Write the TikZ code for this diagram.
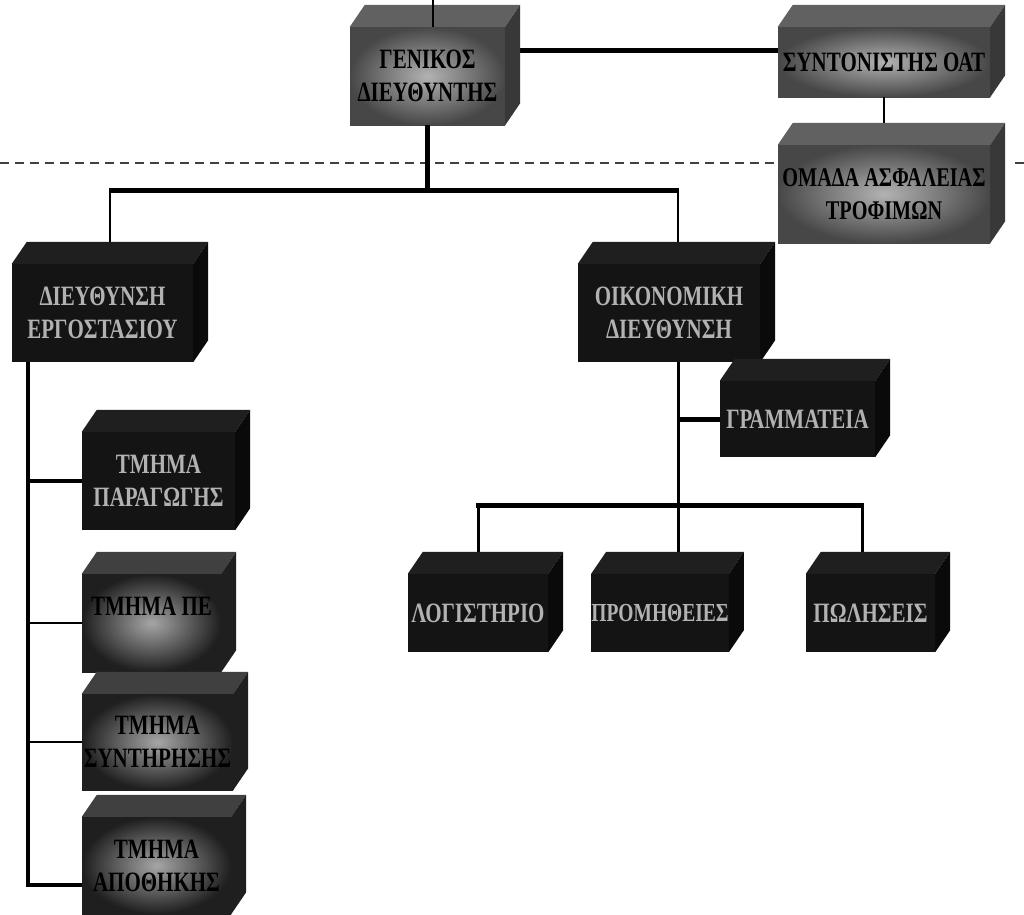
\documentclass[tikz,border=0pt]{standalone}
\usepackage{fontspec}
\setmainfont{Liberation Serif}[FakeStretch=0.75]
\tikzset{
  orgbox/.style={rectangle, inner sep=0pt, align=center, font=\fontsize{28}{33}\selectfont\bfseries},
  graybox/.style={orgbox, inner color=black!30, outer color=black!72, text=black},
  lowbox/.style={orgbox, inner color=black!35, outer color=black!88, text=black},
  darkbox/.style={orgbox, fill=black!92, text=black!30},
  thick line/.style={line width=5pt},
  thin line/.style={line width=2pt}
}
\begin{document}
\begin{tikzpicture}[x=1pt, y=-1pt]
        \useasboundingbox[fill=white] (0,0) rectangle (1024,914);

        \node[graybox, minimum width=155, minimum height=98] (gen) at (427.5,76) {ΓΕΝΙΚΟΣ\\ΔΙΕΥΘΥΝΤΗΣ};
        \node[graybox, minimum width=212, minimum height=70] (coord) at (884,62) {ΣΥΝΤΟΝΙΣΤΗΣ ΟΑΤ};
        \node[graybox, minimum width=212, minimum height=98, font=\fontsize{27}{33}\selectfont\bfseries] (safety) at (884,194) {ΟΜΑΔΑ ΑΣΦΑΛΕΙΑΣ\\ΤΡΟΦΙΜΩΝ};
        \node[darkbox, minimum width=181, minimum height=98] (factory) at (102.5,313) {ΔΙΕΥΘΥΝΣΗ\\ΕΡΓΟΣΤΑΣΙΟΥ};
        \node[darkbox, minimum width=182, minimum height=98] (econ) at (669,313) {ΟΙΚΟΝΟΜΙΚΗ\\ΔΙΕΥΘΥΝΣΗ};
        \node[darkbox, minimum width=155, minimum height=76] (secr) at (797.5,419) {ΓΡΑΜΜΑΤΕΙΑ};
        \node[darkbox, minimum width=153, minimum height=98] (prod) at (158.5,481) {ΤΜΗΜΑ\\ΠΑΡΑΓΩΓΗΣ};
        \node[lowbox, minimum width=139, minimum height=98] (pe) at (151.5,623) {ΤΜΗΜΑ ΠΕ\\~};
        \node[lowbox, minimum width=151, minimum height=96] (maint) at (157.5,742) {ΤΜΗΜΑ\\ΣΥΝΤΗΡΗΣΗΣ};
        \node[lowbox, minimum width=149, minimum height=97] (store) at (156.5,865.5) {ΤΜΗΜΑ\\ΑΠΟΘΗΚΗΣ};
        \node[darkbox, minimum width=140, minimum height=78] (acc) at (478,613) {ΛΟΓΙΣΤΗΡΙΟ};
        \node[darkbox, minimum width=134, minimum height=78, font=\fontsize{26}{30}\selectfont\bfseries] (supp) at (660,613) {ΠΡΟΜΗΘΕΙΕΣ};
        \node[darkbox, minimum width=129, minimum height=78] (sales) at (870.5,613) {ΠΩΛΗΣΕΙΣ};

        % page fold line of the scan
        \draw[line width=1.2pt, dash pattern=on 9pt off 6pt, black!75] (0,163) -- (780,163);
        \draw[line width=1.2pt, black!75] (1015,163) -- (1024,163);

        \coordinate (up) at (433,0);
        \coordinate (bar1l) at (110,190);
        \coordinate (bar1r) at (678,190);
        \coordinate (lsp) at (28,885);
        \coordinate (rsp) at (678,505);
        \coordinate (bar2l) at (478,505);
        \coordinate (bar2r) at (862,505);

        \draw[thick line] ([yshift=26pt]gen.east) -- ([yshift=26pt]gen.east -| coord.west);
        \draw[thin line] (coord.south) -- (safety.north);
        \draw[thick line] (gen.south) -- (gen.south |- bar1l);
        \draw[thick line] ([xshift=-1pt]bar1l) -- ([xshift=1pt]bar1r);
        \draw[thin line] (bar1l) -- (bar1l |- factory.north);
        \draw[thin line] (bar1r) -- (bar1r |- econ.north);

        \draw[thick line, line width=4pt] (factory.south -| lsp) -- ([yshift=-2pt]lsp);
        \draw[thick line, line width=4pt] (prod.west -| lsp) -- (prod.west);
        \draw[thin line] (pe.west -| lsp) -- (pe.west);
        \draw[thin line] (maint.west -| lsp) -- (maint.west);
        \draw[thick line, line width=4pt] ([xshift=-2pt]lsp) -- (lsp -| store.west);

        \draw[thick line, line width=3pt] (econ.south -| rsp) -- (rsp);
        \draw[thick line] (secr.west -| rsp) -- (secr.west);
        \draw[thick line] ([xshift=-2pt]bar2l) -- ([xshift=2pt]bar2r);
        \draw[thin line, line width=3pt] ([yshift=2pt]bar2l) -- (bar2l |- acc.north);
        \draw[thin line, line width=3pt] (rsp) -- (rsp |- supp.north);
        \draw[thin line, line width=3pt] ([yshift=2pt]bar2r) -- (bar2r |- sales.north);

        % top and side faces of the boxes
        \foreach \n/\t/\s in {gen/black!62/black!78, coord/black!62/black!78, safety/black!62/black!78,
                              factory/black!88/black!96, econ/black!88/black!96, secr/black!88/black!96,
                              prod/black!88/black!96, pe/black!75/black!88, maint/black!75/black!88,
                              store/black!75/black!88, acc/black!88/black!96, supp/black!88/black!96,
                              sales/black!88/black!96} {
          \fill[\t] (\n.north west) -- ++(15,-22) -- ([shift={(15,-22)}]\n.north east) -- (\n.north east) -- cycle;
          \fill[\s] (\n.north east) -- ++(15,-22) -- ([shift={(15,-22)}]\n.south east) -- (\n.south east) -- cycle;
        }

        \draw[thin line] (up) -- (up |- gen.north);
\end{tikzpicture}
\end{document}
